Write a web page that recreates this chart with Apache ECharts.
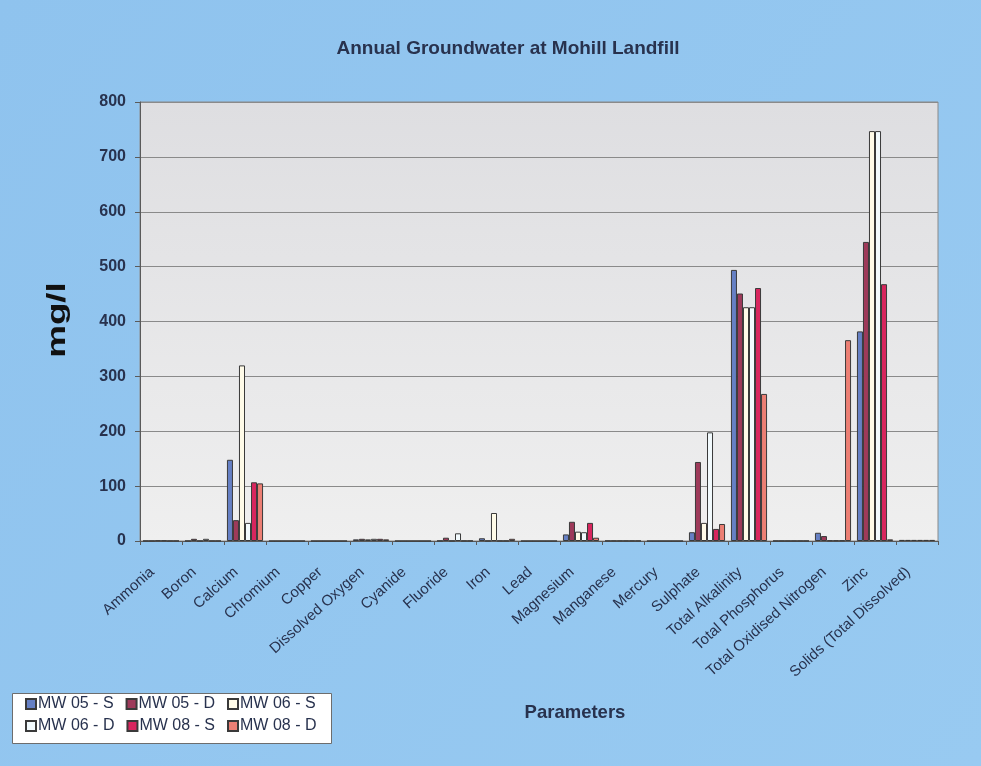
<!DOCTYPE html>
<html>
<head>
<meta charset="utf-8">
<title>Annual Groundwater at Mohill Landfill</title>
<script src="https://cdn.jsdelivr.net/npm/echarts@6/dist/echarts.min.js"></script>
<style>
  html, body { margin: 0; padding: 0; background: #92c6ef; }
  #chart { width: 981px; height: 766px; }
</style>
</head>
<body>
<div id="chart"></div>
<script>
// Parameters measured at each monitoring well (mg/l)
const categories = ['Ammonia', 'Boron', 'Calcium', 'Chromium', 'Copper', 'Dissolved Oxygen',
  'Cyanide', 'Fluoride', 'Iron', 'Lead', 'Magnesium', 'Manganese', 'Mercury', 'Sulphate',
  'Total Alkalinity', 'Total Phosphorus', 'Total Oxidised Nitrogen', 'Zinc', 'Solids (Total Dissolved)'];

const seriesNames = ['MW 05 - S', 'MW 05 - D', 'MW 06 - S', 'MW 06 - D', 'MW 08 - S', 'MW 08 - D'];

const mw05S = [0.3, 0.2, 148, 0, 0, 3, 0, 0.5, 5, 0, 12, 0.5, 0, 16, 494, 0.3, 15, 382, 2];
const mw05D = [0.3, 4, 38, 0, 0, 4, 0, 6, 0.5, 0, 35, 0.5, 0, 144, 451, 0.3, 9, 545, 2];
const mw06S = [0.8, 0.3, 320, 0, 0, 3, 0, 0.5, 51, 0, 17, 0.5, 0, 33, 426, 0.3, 1, 747, 2];
const mw06D = [0.8, 4, 33, 0, 0, 4, 0, 14, 0.5, 0, 16, 0.5, 0, 198, 426, 0.3, 1, 747, 2];
const mw08S = [0.3, 0.3, 107, 0, 0, 4, 0, 0.5, 0.5, 0, 33, 0.5, 0, 22, 461, 0.3, 1, 468, 2];
const mw08D = [0.3, 0.3, 105, 0, 0, 3, 0, 0.5, 4, 0, 6, 0.5, 0, 31, 268, 0.3, 366, 3, 2];

const yTicks = [0, 100, 200, 300, 400, 500, 600, 700, 800];

const values = [mw05S, mw05D, mw06S, mw06D, mw08S, mw08D];
const colors = ['#6680c4', '#9e3a5a', '#fffbe8', '#f2fafd', '#d8265e', '#ec7f74'];
const textColor = '#28324e';
const font = '"Liberation Sans", Arial, sans-serif';

// Shared look of the two legend rows
function legendRow(names, top) {
  return {
    data: names,
    left: 25,
    top: top,
    padding: 0,
    icon: 'rect',
    itemGap: 12,
    itemWidth: 10,
    itemHeight: 10,
    textStyle: { fontFamily: font, fontSize: 16, color: textColor, padding: [0, 0, 0, -3] }
  };
}

const chart = echarts.init(document.getElementById('chart'));

chart.setOption({
  backgroundColor: new echarts.graphic.LinearGradient(0, 0, 1, 1, [
    { offset: 0, color: '#8fc3ee' },
    { offset: 1, color: '#98caf1' }
  ]),
  animation: false,
  textStyle: { fontFamily: font },
  title: {
    text: 'Annual Groundwater at Mohill Landfill',
    left: 503,
    top: 34,
    textAlign: 'center',
    textStyle: { fontFamily: font, fontSize: 19, fontWeight: 'bold', color: textColor }
  },
  graphic: [
    // Vertical unit label, drawn tall and narrow
    {
      type: 'text',
      x: 58,
      y: 320,
      rotation: Math.PI / 2,
      scaleX: 1.47,
      scaleY: 1,
      style: {
        text: 'mg/l',
        font: 'bold 25px "Liberation Sans", Arial, sans-serif',
        fill: '#111111',
        textAlign: 'center',
        textVerticalAlign: 'middle'
      }
    },
    // White box behind the two legend rows
    {
      type: 'rect',
      z: 0,
      shape: { x: 12.5, y: 693.5, width: 319, height: 50 },
      style: { fill: '#ffffff', stroke: '#6d6d6d', lineWidth: 1 }
    }
  ],
  legend: [
    legendRow(seriesNames.slice(0, 3), 696),
    legendRow(seriesNames.slice(3, 6), 718)
  ],
  grid: {
    left: 140,
    right: 43,
    top: 102,
    bottom: 225,
    show: true,
    backgroundColor: new echarts.graphic.LinearGradient(0, 0, 0, 1, [
      { offset: 0, color: '#dedee1' },
      { offset: 1, color: '#efefef' }
    ]),
    borderColor: '#8a8a8a',
    borderWidth: 1
  },
  xAxis: {
    type: 'category',
    data: categories,
    name: 'Parameters',
    nameLocation: 'middle',
    nameGap: 162,
    nameTextStyle: { fontFamily: font, fontSize: 18.5, fontWeight: 'bold', color: textColor, padding: [0, 0, 0, 72] },
    axisLine: { lineStyle: { color: '#5a5a5a' } },
    axisTick: { show: true, length: 4, lineStyle: { color: '#5a5a5a' } },
    axisLabel: {
      interval: 0,
      rotate: 42,
      margin: 21,
      padding: [0, 12, 0, 0],
      fontFamily: font,
      fontSize: 15,
      color: textColor
    }
  },
  yAxis: {
    type: 'value',
    min: yTicks[0],
    max: yTicks[yTicks.length - 1],
    interval: 100,
    axisLine: { show: true, lineStyle: { color: '#5a5a5a' } },
    axisTick: { show: true, length: 5, lineStyle: { color: '#5a5a5a' } },
    axisLabel: { fontFamily: font, fontSize: 16, fontWeight: 'bold', color: textColor, margin: 14 },
    splitLine: { lineStyle: { color: '#8a8a8a', width: 1 } }
  },
  series: seriesNames.map((name, i) => ({
    name: name,
    type: 'bar',
    data: values[i],
    barGap: '0%',
    barCategoryGap: '14%',
    itemStyle: { color: colors[i], borderColor: '#3a3a3a', borderWidth: 1 }
  }))
});
</script>
</body>
</html>
